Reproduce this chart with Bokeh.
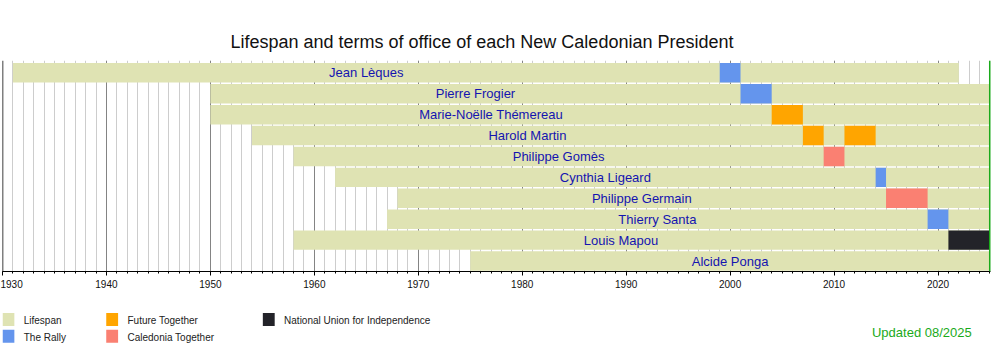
from bokeh.plotting import figure
from bokeh.layouts import column
from bokeh.models import Range1d, SingleIntervalTicker, Span, ColumnDataSource
from bokeh.core.properties import value
from bokeh.embed import file_html
from bokeh.resources import INLINE

# ---------------- data ----------------
names = ["Jean Lèques", "Pierre Frogier", "Marie-Noëlle Thémereau", "Harold Martin",
         "Philippe Gomès", "Cynthia Ligeard", "Philippe Germain", "Thierry Santa",
         "Louis Mapou", "Alcide Ponga"]
born = [1931, 1950, 1950, 1954, 1958, 1962, 1968, 1967, 1958, 1975]
died = [2022, None, None, None, None, None, None, None, None, None]
first_term = [1999, 2001, 2004, 2007, 2009, 2014, 2015, 2019, 2021, 2025]

term_person = [0, 1, 2, 3, 3, 4, 5, 6, 7, 8]
term_start = [1999, 2001, 2004, 2007, 2011, 2009, 2014, 2015, 2019, 2021]
term_end = [2001, 2004, 2007, 2009, 2014, 2011, 2015, 2019, 2021, 2025]
term_party = ["The Rally", "The Rally", "Future Together", "Future Together",
              "Future Together", "Caledonia Together", "The Rally",
              "Caledonia Together", "The Rally", "National Union for Independence"]

parties = ["The Rally", "Future Together", "Caledonia Together",
           "National Union for Independence"]
party_colors = ["#6495ED", "#FFA500", "#FA8072", "#232329"]
lifespan_label = "Lifespan"
lifespan_color = "#dfe3b3"

period_start, period_end = 1930, 2025
updated_text = "Updated 08/2025"
title_text = "Lifespan and terms of office of each New Caledonian President"

FONT = "Liberation Sans"

# ---------------- main figure ----------------
p = figure(width=1000, height=300, output_backend="svg", toolbar_location=None,
           x_range=Range1d(period_start, period_end + 0.05),
           y_range=Range1d(9.5, -0.59), y_axis_location=None,
           min_border_left=2, min_border_right=10, min_border_top=60,
           min_border_bottom=29)
p.outline_line_color = None

p.title.text = title_text
p.title.text_font = FONT
p.title.text_font_size = "18px"
p.title.text_font_style = "normal"
p.title.text_color = "#111111"
p.title.align = "left"
p.title.offset = 228
p.title.standoff = 18

ticker = SingleIntervalTicker(interval=10, num_minor_ticks=10)
p.xaxis.ticker = ticker
p.xaxis.axis_line_color = "black"
p.xaxis.major_tick_line_color = "black"
p.xaxis.minor_tick_line_color = "black"
p.xaxis.major_tick_in = 0
p.xaxis.major_tick_out = 4
p.xaxis.minor_tick_in = 0
p.xaxis.minor_tick_out = 2
p.xaxis.major_label_text_font = FONT
p.xaxis.major_label_text_font_size = "10px"
p.xaxis.major_label_text_color = "#111111"
p.xaxis.major_label_standoff = 4

p.xgrid.ticker = ticker
p.xgrid.grid_line_color = "#848484"
p.xgrid.minor_grid_line_color = "#cdcdcd"
p.ygrid.visible = False

rows = list(range(len(names)))
life_end = [d if d is not None else period_end for d in died]
life_src = ColumnDataSource(dict(row=rows, left=born, right=life_end))
p.hbar(y="row", left="left", right="right", height=0.93, source=life_src,
       fill_color=lifespan_color, line_color=None)

for party, color in zip(parties, party_colors):
    idx = [i for i, tp in enumerate(term_party) if tp == party]
    src = ColumnDataSource(dict(row=[term_person[i] for i in idx],
                                left=[term_start[i] for i in idx],
                                right=[term_end[i] for i in idx]))
    p.hbar(y="row", left="left", right="right", height=0.93, source=src,
           fill_color=color, line_color=None)

label_x = [(b + f) / 2 for b, f in zip(born, first_term)]
lab_src = ColumnDataSource(dict(x=label_x, y=rows, t=names))
p.text(x="x", y="y", text="t", source=lab_src, text_font=value(FONT),
       text_font_size=value("13px"), text_align="center", text_baseline="middle",
       text_color="#1414b0")

p.add_layout(Span(location=period_start, dimension="height", line_color="black",
                  line_width=1.5))
p.add_layout(Span(location=period_end, dimension="height", line_color="#1aaa1a",
                  line_width=2))

# ---------------- legend strip (pixel-like coordinates) ----------------
lg = figure(width=1000, height=50, output_backend="svg", toolbar_location=None,
            x_range=Range1d(0, 1000), y_range=Range1d(50, 0),
            x_axis_location=None, y_axis_location=None,
            min_border_left=0, min_border_right=0, min_border_top=0,
            min_border_bottom=0)
lg.outline_line_color = None
lg.xgrid.visible = False
lg.ygrid.visible = False

leg_labels = [lifespan_label] + parties
leg_colors = [lifespan_color] + party_colors
col_x = [0, 105, 263.5]          # layout: column left edges
row_y = [12.5, 29.2]             # layout: row top edges
leg_cell = [(0, 0), (0, 1), (1, 0), (1, 1), (2, 0)]
sw_left = [col_x[c] for c, r in leg_cell]
sw_top = [row_y[r] for c, r in leg_cell]
leg_src = ColumnDataSource(dict(
    left=sw_left, right=[x + 12 for x in sw_left],
    top=sw_top, bottom=[y + 13 for y in sw_top],
    tx=[x + 21.5 for x in sw_left], ty=[y + 7.3 for y in sw_top],
    label=leg_labels, color=leg_colors))
lg.quad(left="left", right="right", top="top", bottom="bottom", source=leg_src,
        fill_color="color", line_color=None)
lg.text(x="tx", y="ty", text="label", source=leg_src, text_font=value(FONT),
        text_font_size=value("10px"), text_baseline="middle", text_align="left",
        text_color="#222222")
lg.text(x=[930.5], y=[31.7], text=[updated_text], text_font=value(FONT),
        text_font_size=value("13px"), text_baseline="middle", text_align="center",
        text_color="#1aaa1a")

layout = column(p, lg, spacing=0)
open("out.html", "w").write(file_html(layout, INLINE))
